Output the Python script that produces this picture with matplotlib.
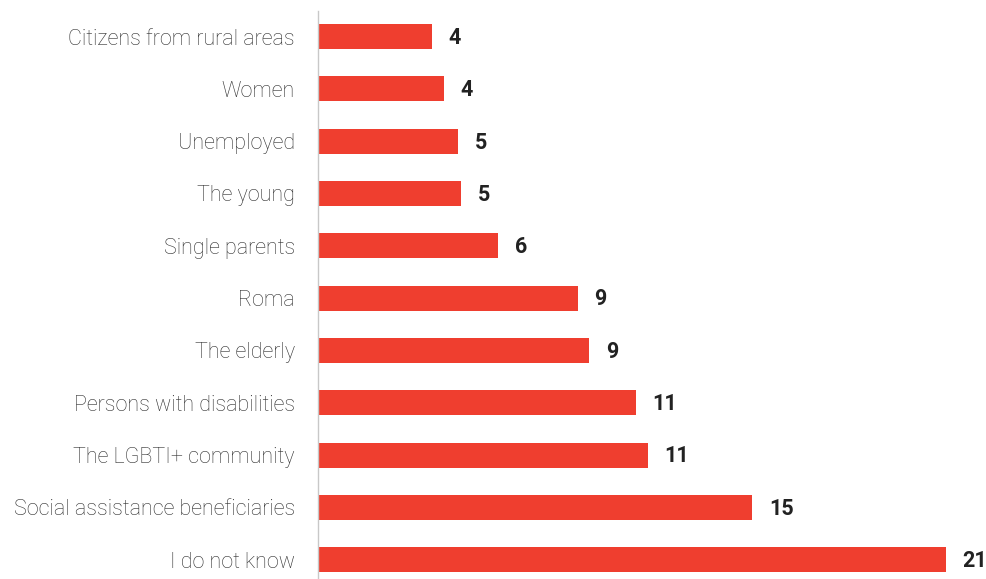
"""Horizontal bar chart: groups named by respondents (share, %)."""

import matplotlib.pyplot as plt

plt.rcParams["font.family"] = ["Roboto", "DejaVu Sans"]

CATEGORIES = [
    "Citizens from rural areas",
    "Women",
    "Unemployed",
    "The young",
    "Single parents",
    "Roma",
    "The elderly",
    "Persons with disabilities",
    "The LGBTI+ community",
    "Social assistance beneficiaries",
    "I do not know",
]
VALUES = [3.82, 4.22, 4.69, 4.79, 6.03, 8.69, 9.07, 10.63, 11.03, 14.52, 21.0]
VALUE_LABELS = ["4", "4", "5", "5", "6", "9", "9", "11", "11", "15", "21"]

BAR_COLOR = "#EF3E2F"
LABEL_COLOR = "#2e2e2e"
VALUE_COLOR = "#222222"


def main() -> None:
    fig = plt.figure(figsize=(9.87, 5.79), dpi=100)
    ax = fig.add_axes([0.3219, 0.0, 0.6366, 0.981])

    positions = list(range(len(CATEGORIES)))
    ax.barh(positions, VALUES, height=0.478, color=BAR_COLOR)

    ax.set_xlim(0, 21)
    ax.set_ylim(10.37, -0.488)

    for pos, value, label in zip(positions, VALUES, VALUE_LABELS):
        ax.annotate(
            label,
            xy=(value, pos),
            xytext=(12, -1),
            textcoords="offset points",
            va="center",
            ha="left",
            fontsize=15.5,
            fontweight="bold",
            color=VALUE_COLOR,
            annotation_clip=False,
        )

    ax.set_yticks(positions)
    ax.set_yticklabels(CATEGORIES, fontsize=15.5, fontweight="light", color=LABEL_COLOR)
    ax.tick_params(axis="y", length=0, pad=16.5)
    ax.set_xticks([])

    for side in ["top", "right", "bottom"]:
        ax.spines[side].set_visible(False)
    ax.spines["left"].set_color("#c8c8c8")
    ax.spines["left"].set_linewidth(1.0)

    fig.savefig("out.png", dpi=100)
    plt.close(fig)


if __name__ == "__main__":
    main()
